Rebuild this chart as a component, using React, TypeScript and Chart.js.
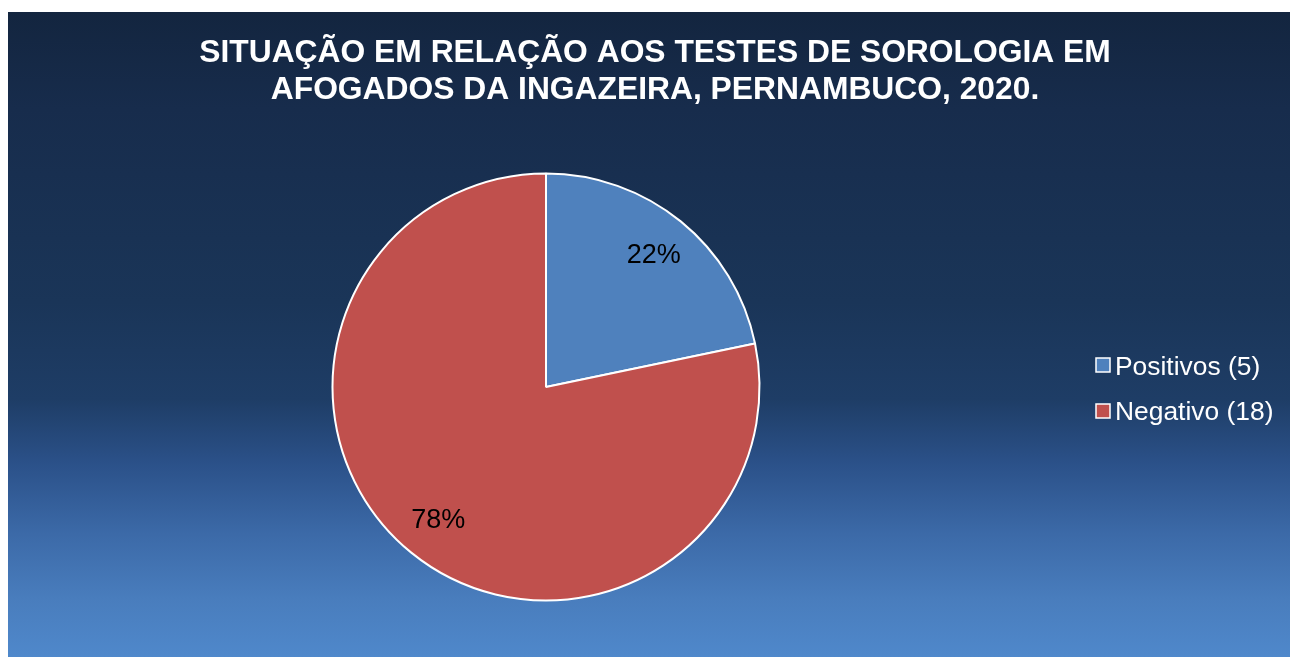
import React, { useEffect, useRef } from "react";
import { Chart, registerables } from "chart.js";

Chart.register(...registerables);

const categories = ["Positivos (5)", "Negativo (18)"];
const values = [5, 18];
const sliceColors = ["#4F81BD", "#C0504D"];
const titleLines = [
  "SITUAÇÃO EM RELAÇÃO AOS TESTES DE SOROLOGIA EM",
  "AFOGADOS DA INGAZEIRA, PERNAMBUCO, 2020.",
];

const FONT = '"Liberation Sans", Arial, sans-serif';

const overlayPlugin = {
  id: "overlay",
  afterDraw(chart: any) {
    const ctx = chart.ctx as CanvasRenderingContext2D;
    ctx.save();
    // Title
    ctx.fillStyle = "#FFFFFF";
    ctx.font = `bold 31.8px ${FONT}`;
    ctx.textAlign = "center";
    ctx.textBaseline = "alphabetic";
    const titleCx = 647;
    titleLines.forEach((t, i) => ctx.fillText(t, titleCx, 50 + i * 36.5));

    // Percent labels
    const meta = chart.getDatasetMeta(0);
    const total = values.reduce((a, b) => a + b, 0);
    ctx.fillStyle = "#000000";
    ctx.font = `27px ${FONT}`;
    ctx.textAlign = "center";
    ctx.textBaseline = "middle";
    meta.data.forEach((arc: any, i: number) => {
      const { x, y, startAngle, endAngle, outerRadius } = arc.getProps(
        ["x", "y", "startAngle", "endAngle", "outerRadius"],
        true
      );
      const mid = (startAngle + endAngle) / 2;
      const r = outerRadius * 0.8;
      const pct = Math.round((values[i] / total) * 100) + "%";
      ctx.fillText(pct, x + Math.cos(mid) * r, y + Math.sin(mid) * r + 1);
    });

    // Legend
    ctx.font = `26.4px ${FONT}`;
    ctx.textAlign = "left";
    ctx.textBaseline = "alphabetic";
    categories.forEach((c, i) => {
      const by = 346 + i * 46;
      ctx.fillStyle = sliceColors[i];
      ctx.fillRect(1088, by, 14, 14);
      ctx.strokeStyle = "#FFFFFF";
      ctx.lineWidth = 1.5;
      ctx.strokeRect(1088, by, 14, 14);
      ctx.fillStyle = "#FFFFFF";
      ctx.fillText(c, 1107, 363 + i * 45);
    });
    ctx.restore();
  },
};

export default function App() {
  const canvasRef = useRef<HTMLCanvasElement | null>(null);

  useEffect(() => {
    if (!canvasRef.current) return;
    const chart = new Chart(canvasRef.current, {
      type: "pie",
      data: {
        labels: categories,
        datasets: [
          {
            data: values,
            backgroundColor: sliceColors,
            borderColor: "#FFFFFF",
            borderWidth: 2,
          },
        ],
      },
      options: {
        animation: false,
        responsive: true,
        maintainAspectRatio: false,
        layout: {
          padding: { left: 323.5, top: 160.5, right: 529.5, bottom: 55.5 },
        },
        plugins: {
          legend: { display: false },
          title: { display: false },
          tooltip: { enabled: false },
        },
      },
      plugins: [overlayPlugin],
    });
    return () => chart.destroy();
  }, []);

  return (
    <div
      style={{
        position: "fixed",
        left: 8,
        top: 12,
        width: 1282,
        height: 645,
        background:
          "linear-gradient(to bottom, #13253f 0%, #172c4c 15%, #1a3558 45%, #1e3d66 60%, #2b5189 70%, #3c6aa8 81%, #497dbd 91%, #4f88cb 100%)",
      }}
    >
      <canvas ref={canvasRef} />
    </div>
  );
}
